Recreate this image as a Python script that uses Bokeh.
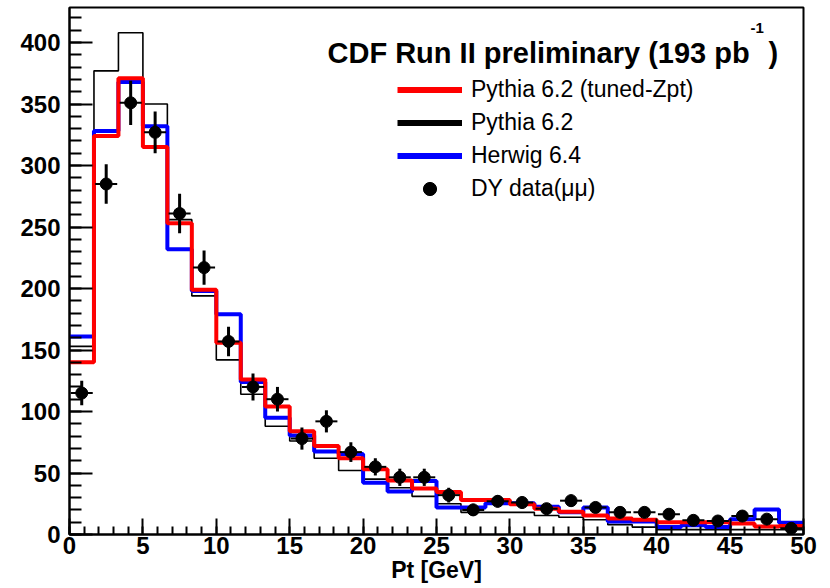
import numpy as np
from bokeh.plotting import figure
from bokeh.models import (Range1d, SingleIntervalTicker, Legend, LegendItem,
                          Label, ColumnDataSource)
from bokeh.embed import file_html
from bokeh.resources import INLINE

# Drell-Yan dimuon Pt spectrum, 30 bins between 0 and 50 GeV
pt_low, pt_high, n_bins = 0.0, 50.0, 30

pythia_tuned = [140, 324, 371, 315, 253, 199, 156, 126, 104, 84,
                72, 62, 53, 44, 37.5, 34.5, 28, 28, 24.5, 21,
                18.5, 15.5, 13, 12, 10, 10, 10, 9, 6.5, 7]
pythia = [153, 377, 408, 350, 256, 194, 142, 114, 88, 76,
          62, 52, 45, 38, 31, 25, 18, 18, 18, 15.5,
          14, 12, 8, 6, 4, 4, 4, 4, 4, 4]
herwig = [161, 328, 368, 332, 232, 198, 179, 124, 95, 80.5,
          67.5, 65.5, 42, 35, 43.5, 22, 22, 25.5, 25.5, 22.5,
          18, 22, 10.5, 10.5, 6, 7.5, 6, 12.5, 20.3, 9.5]
data_counts = [115, 285, 351, 327, 261, 217, 157, 120, 110, 78,
               92, 67, 55, 46.5, 46.5, 32, 20, 27, 26, 21,
               27.5, 22, 18, 18, 16.5, 11.5, 11, 15, 12.5, 5]
data_errors = [10, 16, 18, 17, 16, 14, 12, 11, 10, 9,
               9, 8, 7, 7, 7, 6, 5, 5, 5, 4.5,
               5, 4.5, 4, 4, 4, 3.5, 3.5, 4, 3.5, 3]

edges = np.linspace(pt_low, pt_high, n_bins + 1)
centers = 0.5 * (edges[:-1] + edges[1:])
half_bin = 0.45 * (edges[1] - edges[0])

FONT = "Liberation Sans"

p = figure(width=830, height=588, output_backend="svg", toolbar_location=None,
           x_range=Range1d(0, 50), y_range=Range1d(0, 428.5),
           min_border_left=69, min_border_right=27, min_border_top=7,
           min_border_bottom=54, background_fill_color="white",
           border_fill_color="white")
p.grid.visible = False
p.outline_line_color = "black"
p.outline_line_width = 2

# histogram outlines
def step_values(vals):
    return list(vals) + [vals[-1]]

p.step(edges, step_values(pythia), mode="after", line_color="black", line_width=1.6)
p.step(edges, step_values(herwig), mode="after", line_color="#0000ff", line_width=4)
p.step(edges, step_values(pythia_tuned), mode="after", line_color="#ff0000", line_width=4)

# data points with error bars
src = ColumnDataSource(dict(
    x=centers, y=data_counts,
    ylo=np.array(data_counts) - np.array(data_errors),
    yhi=np.array(data_counts) + np.array(data_errors),
    xlo=centers - half_bin, xhi=centers + half_bin))
p.segment(x0="x", y0="ylo", x1="x", y1="yhi", source=src, line_color="black", line_width=3)
p.segment(x0="xlo", y0="y", x1="xhi", y1="y", source=src, line_color="black", line_width=2)
data_r = p.scatter("x", "y", source=src, size=12, color="black")

# legend proxies: thicker line samples than the histogram outlines
nan = [float("nan")]
leg_red = p.line(nan, nan, line_color="#ff0000", line_width=6)
leg_black = p.line(nan, nan, line_color="black", line_width=6)
leg_blue = p.line(nan, nan, line_color="#0000ff", line_width=6)

legend = Legend(items=[
    LegendItem(label="Pythia 6.2 (tuned-Zpt)", renderers=[leg_red]),
    LegendItem(label="Pythia 6.2", renderers=[leg_black]),
    LegendItem(label="Herwig 6.4", renderers=[leg_blue]),
    LegendItem(label="DY data(\u03bc\u03bc)", renderers=[data_r]),
], location=(328, 329), glyph_width=65, glyph_height=33, label_height=33,
    spacing=0, padding=0, margin=0, label_standoff=9,
    label_text_font=FONT, label_text_font_size="23px", label_text_color="black",
    border_line_color=None, background_fill_alpha=0)
p.add_layout(legend)

# header text with superscript luminosity unit
p.add_layout(Label(x=258, y=482, x_units="screen", y_units="screen",
                   text="CDF Run II preliminary (193 pb", text_font=FONT,
                   text_font_size="29px", text_font_style="bold",
                   text_baseline="alphabetic", text_color="black"))
p.add_layout(Label(x=681, y=507, x_units="screen", y_units="screen",
                   text="-1", text_font=FONT, text_font_size="15px",
                   text_font_style="bold", text_baseline="alphabetic",
                   text_color="black"))
p.add_layout(Label(x=699, y=482, x_units="screen", y_units="screen",
                   text=")", text_font=FONT, text_font_size="29px",
                   text_font_style="bold", text_baseline="alphabetic",
                   text_color="black"))

# axes
p.xaxis.ticker = SingleIntervalTicker(interval=5, num_minor_ticks=5)
p.yaxis.ticker = SingleIntervalTicker(interval=50, num_minor_ticks=5)
p.xaxis.axis_label = "Pt [GeV]"
for ax in (p.xaxis[0], p.yaxis[0]):
    ax.axis_line_color = "black"
    ax.axis_line_width = 2
    ax.major_tick_line_color = "black"
    ax.minor_tick_line_color = "black"
    ax.major_tick_line_width = 2
    ax.minor_tick_line_width = 2
    ax.major_tick_out = 0
    ax.minor_tick_out = 0
    ax.major_label_text_font = FONT
    ax.major_label_text_font_size = "24px"
    ax.major_label_text_font_style = "bold"
    ax.major_label_text_color = "black"
    ax.axis_label_text_font = FONT
    ax.axis_label_text_font_size = "23px"
    ax.axis_label_text_font_style = "bold"
    ax.axis_label_text_color = "black"
p.xaxis.major_tick_in = 16
p.xaxis.minor_tick_in = 8
p.yaxis.major_tick_in = 23
p.yaxis.minor_tick_in = 12
p.xaxis.major_label_standoff = 2
p.xaxis.axis_label_standoff = 0
p.yaxis.major_label_standoff = 9

open("out.html", "w").write(file_html(p, INLINE))
